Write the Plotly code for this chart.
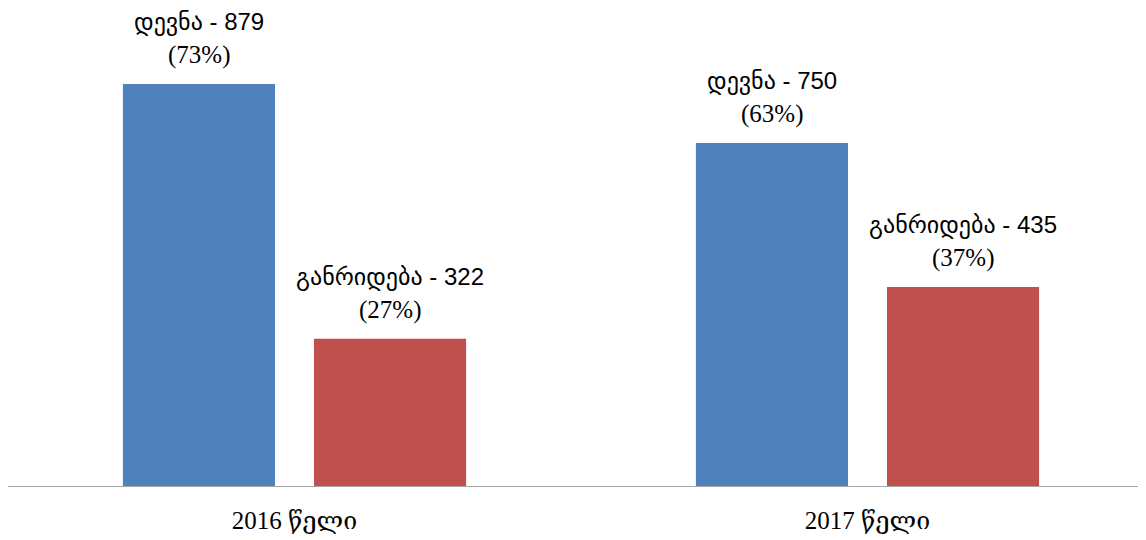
import plotly.graph_objects as go

categories = ["2016 წელი", "2017 წელი"]
series_names = ["დევნა", "განრიდება"]
prosecution = [879, 750]
diversion = [322, 435]
prosecution_pct = [73, 63]
diversion_pct = [27, 37]
colors = ["#4F81BD", "#C0504D"]

fig = go.Figure()
series = [(series_names[0], prosecution, prosecution_pct, colors[0]),
          (series_names[1], diversion, diversion_pct, colors[1])]
for name, vals, pcts, col in series:
    fig.add_trace(go.Bar(x=categories, y=vals, name=name, marker_color=col,
                         marker_line_width=0, showlegend=False))

annotations = []
offsets = [-95.5, 95.5]
for (name, vals, pcts, col), xs in zip(series, offsets):
    for cat, v, p in zip(categories, vals, pcts):
        annotations.append(dict(x=cat, y=v, xref="x", yref="y", text=f"{name} - {v}",
                                showarrow=False, xshift=xs, yshift=62, yanchor="middle",
                                font=dict(family="Liberation Sans, DejaVu Sans", size=24, color="#000")))
        annotations.append(dict(x=cat, y=v, xref="x", yref="y", text=f"({p}%)",
                                showarrow=False, xshift=xs, yshift=29, yanchor="middle",
                                font=dict(family="Liberation Serif, DejaVu Serif", size=25, color="#000")))

fig.update_layout(
    width=1146, height=540,
    margin=dict(l=0, r=0, t=0, b=62),
    barmode="group", bargap=0.333, bargroupgap=0.204,
    plot_bgcolor="white", paper_bgcolor="white",
    annotations=annotations,
    xaxis=dict(range=[-0.5, 1.5], showline=True, linecolor="#A6A6A6", linewidth=1,
               showgrid=False, ticks="", ticklabelstandoff=12,
               tickfont=dict(family="Liberation Serif, DejaVu Serif", size=25, color="#000")),
    yaxis=dict(range=[0, 1045], visible=False),
)
fig.write_html("out.html")
